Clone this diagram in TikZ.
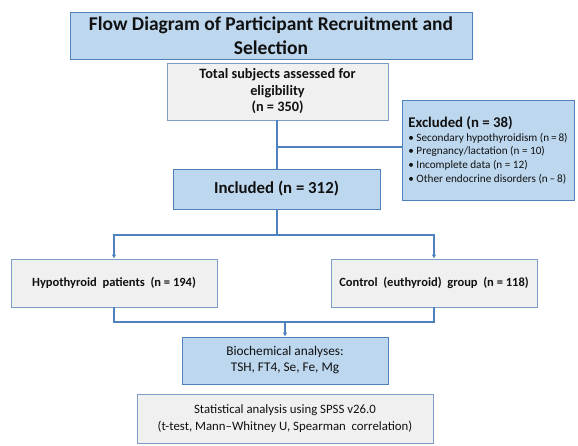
\documentclass[tikz,border=0pt]{standalone}
\usepackage{fontspec}
\setmainfont{Carlito}
\usepackage{tikz}
\usetikzlibrary{arrows.meta,positioning,shadows}
\definecolor{BlueFill}{HTML}{BDD7EE}
\definecolor{BlueLine}{HTML}{4F81BD}
\definecolor{GreyFill}{HTML}{F0F0F0}
\definecolor{GreyLine}{HTML}{7F9CC8}
\definecolor{Ink}{HTML}{111111}

\begin{document}
\begin{tikzpicture}[
  x=1pt,y=-1pt,
  font=\fontsize{13}{16}\selectfont,
  >=Latex,
  box/.style={draw=BlueLine,line width=0.8pt,align=center,inner sep=3pt,text=Ink,
    drop shadow={shadow xshift=1pt,shadow yshift=-1.2pt,opacity=0.25}},
  bluebox/.style={box,fill=BlueFill},
  greybox/.style={box,draw=GreyLine,fill=GreyFill},
  conn/.style={draw=BlueLine,line width=1.6pt},
  arr/.style={conn,-{Latex[length=4pt,width=4.5pt]}}
]
  \useasboundingbox (0,0) rectangle (578,445);

  % Titel en instroom.
  \node[bluebox,minimum width=402pt,minimum height=47pt,
        font=\fontsize{19.5}{24}\selectfont\bfseries] (title) at (271,35.5)
    {Flow Diagram of Participant Recruitment and\\Selection};
  \node[greybox,minimum width=221pt,minimum height=57pt,
        font=\fontsize{14.3}{16.5}\selectfont\bfseries] (total) at (277.5,91.5)
    {Total subjects assessed for\\eligibility\\(n = 350)};
  \node[bluebox,minimum width=172pt,minimum height=100pt,align=left,
        inner sep=2pt,font=\fontsize{11.2}{13.7}\selectfont] (excl) at (488,150)
    {{\fontsize{14.8}{18}\selectfont\bfseries Excluded (n = 38)}\\
     • Secondary hypothyroidism (n\,=\,8)\\
     • Pregnancy/lactation (n = 10)\\
     • Incomplete data (n = 12)\\
     • Other endocrine disorders (n\,–\,8)};
  \node[bluebox,minimum width=207pt,minimum height=40pt,
        font=\fontsize{16.8}{19}\selectfont\bfseries] (incl) at (276.5,189)
    {Included (n = 312)};

  \coordinate (split) at (277,147);
  \draw[conn] (total.south -| split) -- (incl.north -| split);
  \draw[conn] (split) -- (split -| excl.west);

  % Groepen.
  \node[greybox,minimum width=206pt,minimum height=48pt,
        font=\fontsize{12.5}{15}\selectfont\bfseries] (hypo) at (114,283)
    {Hypothyroid\ \ patients\ \ (n = 194)};
  \node[greybox,minimum width=206pt,minimum height=48pt,
        font=\fontsize{12.5}{15}\selectfont\bfseries] (ctrl) at (434,283)
    {Control\ \ (euthyroid)\ \ group\ \ (n = 118)};

  \coordinate (fork) at (277,235);
  \draw[conn] (incl.south -| fork) -- (fork);
  \draw[arr] (fork) -| (hypo.north);
  \draw[arr] (fork) -| (ctrl.north);

  % Analyse.
  \node[bluebox,minimum width=206pt,minimum height=47pt,
        font=\fontsize{13.3}{16}\selectfont] (bio) at (285,360.5)
    {Biochemical analyses:\\TSH, FT4, Se, Fe, Mg};
  \node[greybox,minimum width=296pt,minimum height=49pt,
        font=\fontsize{12.8}{17}\selectfont] (stat) at (285,418.5)
    {Statistical analysis using SPSS v26.0\\(t-test, Mann--Whitney\ U,\ Spearman\ \ correlation)};

  \coordinate (join) at (285,322);
  \draw[conn] (hypo.south) |- (join) -| (ctrl.south);
  \draw[arr] (join) -- (bio.north);
\end{tikzpicture}
\end{document}
